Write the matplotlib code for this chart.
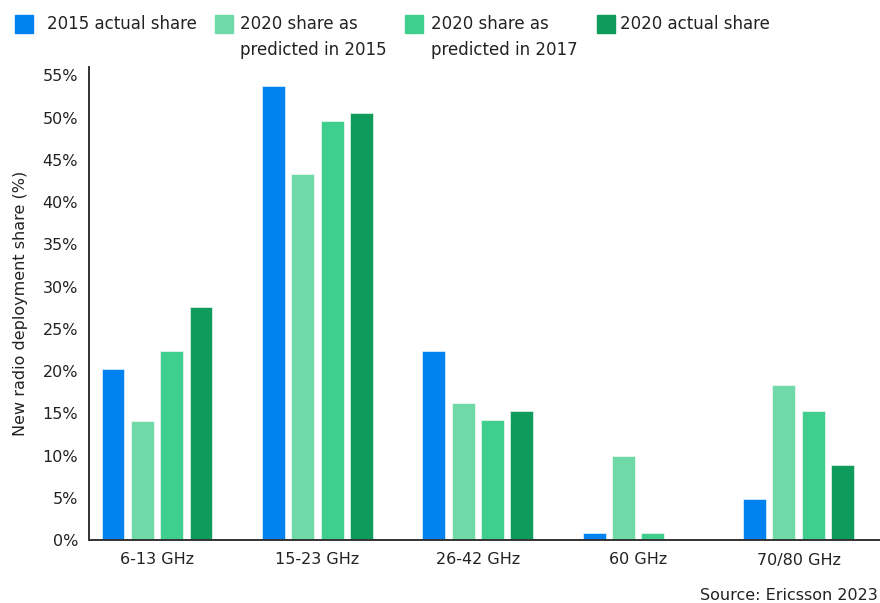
import matplotlib
matplotlib.use("Agg")
import matplotlib.pyplot as plt
import numpy as np
from matplotlib.patches import Rectangle

categories = ["6-13 GHz", "15-23 GHz", "26-42 GHz", "60 GHz", "70/80 GHz"]
series_names = ["2015 actual share", "2020 share as\npredicted in 2015",
                "2020 share as\npredicted in 2017", "2020 actual share"]
actual_2015 = [20.3, 53.7, 22.4, 0.8, 4.8]
pred_2015 = [14.1, 43.3, 16.2, 10.0, 18.3]
pred_2017 = [22.4, 49.6, 14.2, 0.8, 15.3]
actual_2020 = [27.6, 50.5, 15.3, 0.0, 8.9]
yticks = [0, 5, 10, 15, 20, 25, 30, 35, 40, 45, 50, 55]
colors = ["#0082F0", "#70D9A8", "#40CE8F", "#0F9B5B"]

plt.rcParams['font.family'] = ['DejaVu Sans']
W, H = 880, 603
fig = plt.figure(figsize=(W / 100, H / 100), dpi=100)
ax = fig.add_axes([89 / W, (H - 540) / H, 1 - 89 / W, (540 - 67) / H])

x = np.arange(len(categories))
step = 0.183
width = 0.143
for i, vals in enumerate([actual_2015, pred_2015, pred_2017, actual_2020]):
    ax.bar(x + (i - 1.5) * step, vals, width, color=colors[i],
           edgecolor="white", linewidth=0.4, zorder=2)

ax.set_xlim(-0.424, 4.508)
ax.set_ylim(0, 56)
ax.set_xticks(x)
ax.set_xticklabels(categories, fontsize=11.5, color="#222222")
ax.set_yticks(yticks)
ax.set_yticklabels([f"{v}%" for v in yticks], fontsize=11.5, color="#222222")
ax.tick_params(axis="both", length=0, pad=8)
ax.tick_params(axis="x", pad=9)
for s in ["top", "right"]:
    ax.spines[s].set_visible(False)
for s in ["left", "bottom"]:
    ax.spines[s].set_color("#333333")
    ax.spines[s].set_linewidth(1.4)
ax.set_ylabel("New radio deployment share (%)", fontsize=11.5, color="#222222", labelpad=10)

# legend drawn manually
patch_x = [15, 215, 405, 597]
text_x = [47, 240, 431, 620]
for i in range(4):
    fig.patches.append(Rectangle((patch_x[i] / W, 1 - 33 / H), 18 / W, 18 / H,
                                 transform=fig.transFigure, color=colors[i]))
    fig.text(text_x[i] / W, 1 - 15 / H, series_names[i], fontsize=12,
             va="top", ha="left", color="#222222", linespacing=1.55)

fig.text(878 / W, 1 - 596 / H, "Source: Ericsson 2023", fontsize=11.5,
         ha="right", va="center", color="#222222")

fig.savefig("out.png", dpi=100)
